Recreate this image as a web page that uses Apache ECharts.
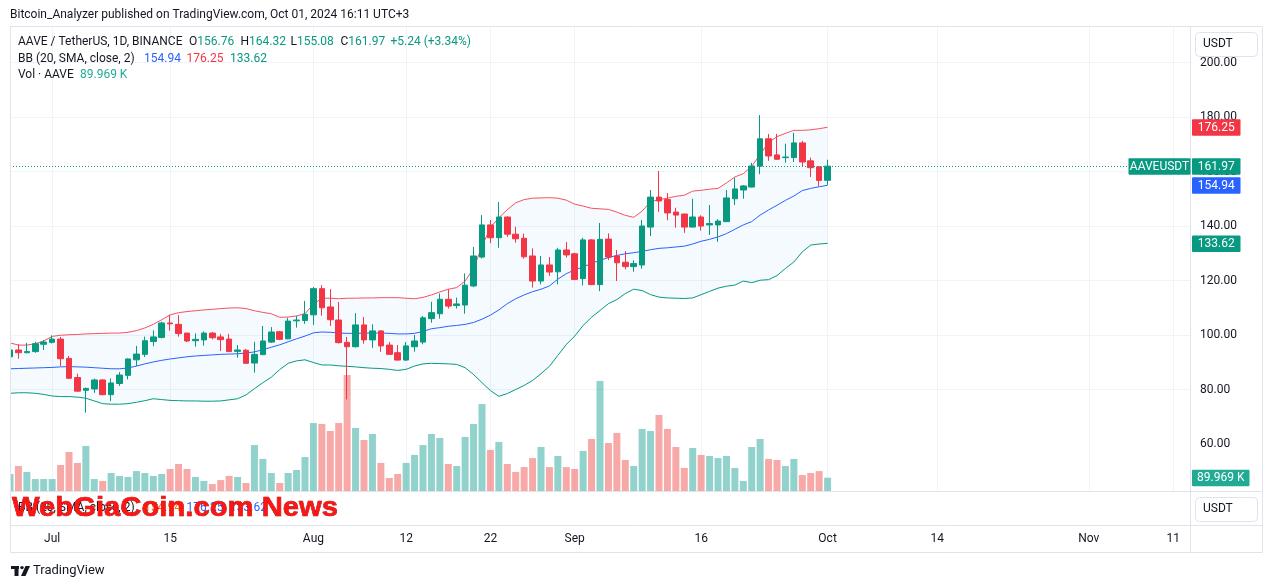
<!DOCTYPE html>
<html><head><meta charset="utf-8">
<script src="https://cdn.jsdelivr.net/npm/echarts@6/dist/echarts.min.js"></script>
<style>html,body{margin:0;padding:0;background:#fff}#c{width:1273px;height:588px}</style>
</head><body><div id="c"></div>
<script>
// ---- categories (daily, Jun 26 .. Nov 13 2024) ----
const startDay = [2024, 5, 26];
const dayCount = 141;
const categories = [];
for (let i = 0; i < dayCount; i++) {
  const d = new Date(Date.UTC(startDay[0], startDay[1], startDay[2] + i));
  categories.push(d.toISOString().slice(0, 10));
}
const timeTickDates = ['2024-07-01','2024-07-15','2024-08-01','2024-08-12','2024-08-22','2024-09-01','2024-09-16','2024-10-01','2024-10-14','2024-11-01','2024-11-11'];
const timeTickLabels = ['Jul','15','Aug','12','22','Sep','16','Oct','14','Nov','11'];
const priceTicks = [60, 80, 100, 120, 140, 160, 180, 200];

// ---- OHLC (USDT) ----
const openP = [92.0,94.5,93.5,93.9,96.6,97.3,98.5,91.4,84.4,79.7,80.2,83.5,78.1,82.2,85.2,90.9,92.9,97.6,99.1,104.4,
103.9,100.7,97.9,98.2,100.7,99.3,98.5,94.0,94.4,89.7,92.8,97.4,101.2,98.6,105.2,105.3,107.4,117.0,110.3,105.5,
97.3,95.7,103.7,98.2,101.5,96.3,93.5,90.8,95.7,97.4,106.0,107.8,113.1,110.8,111.0,118.0,128.6,140.4,135.7,143.3,
137.0,135.5,129.0,119.8,125.7,123.2,131.2,129.8,120.7,134.9,118.5,135.2,129.0,126.7,125.1,125.7,139.6,150.6,149.7,145.1,
144.4,139.6,143.3,140.4,140.4,141.6,150.0,153.2,154.3,162.0,172.0,166.1,165.1,165.1,170.5,163.9,161.7,156.76];
const highP = [95.0,96.6,97.1,97.5,98.2,99.9,99.3,92.3,85.8,80.7,84.0,83.8,84.1,86.4,91.4,96.0,99.4,101.7,104.9,107.4,
107.3,100.8,100.6,101.3,101.1,100.4,100.4,96.3,94.9,97.5,103.3,102.9,101.5,106.3,107.0,112.5,117.6,118.3,116.8,112.1,
99.3,108.0,106.6,103.9,101.7,97.4,96.3,97.4,100.0,107.0,112.2,115.2,116.8,113.7,122.6,132.3,144.0,142.2,148.8,143.5,
139.7,137.2,131.8,129.0,128.6,132.0,134.1,130.2,135.7,135.2,141.1,137.3,131.2,130.8,127.4,142.2,153.2,160.2,152.1,146.7,
144.5,150.0,143.9,147.7,142.5,153.2,157.7,155.0,163.2,180.7,173.8,173.8,170.2,174.2,171.2,165.1,161.8,164.32];
const lowP = [91.5,91.3,93.3,93.5,94.5,96.9,88.6,83.9,79.2,71.5,78.8,77.9,75.8,81.3,83.7,88.6,91.9,95.9,98.8,101.6,
99.4,97.4,95.7,96.1,98.4,94.1,93.7,91.7,89.5,86.2,92.6,97.1,98.1,98.4,102.7,104.1,103.7,107.1,103.3,96.9,
76.4,95.4,96.8,95.3,93.8,92.7,90.6,90.5,93.9,96.6,104.5,106.0,109.7,109.7,107.8,117.6,128.1,133.7,132.0,136.0,
133.9,128.0,117.4,118.6,121.7,118.6,128.4,120.1,118.2,118.3,116.1,127.5,119.8,124.1,123.2,124.3,136.3,145.2,142.1,139.4,
137.5,139.5,138.3,136.7,134.2,141.5,147.7,150.0,154.2,159.0,163.9,164.3,163.2,163.5,161.8,158.0,154.6,155.08];
const closeP = [94.5,93.5,93.9,96.8,97.4,98.5,91.3,84.1,79.4,80.4,83.5,78.1,82.4,85.3,91.2,93.0,97.9,99.3,104.4,104.1,
100.5,97.8,98.4,100.7,99.0,98.3,93.9,94.5,89.6,92.9,97.8,101.1,98.4,105.1,105.5,107.6,117.0,110.0,105.6,97.2,
95.7,103.7,98.2,101.5,96.0,92.9,90.8,96.0,97.8,106.3,108.2,113.1,110.6,111.4,118.3,129.0,140.4,135.7,143.3,137.0,
135.3,128.7,119.8,125.7,123.1,131.2,129.4,120.4,134.9,118.5,135.1,128.6,126.5,125.1,126.2,140.0,150.6,149.2,144.8,144.0,
139.6,143.3,140.0,140.9,141.8,150.3,153.6,154.7,162.0,172.0,165.7,164.5,165.3,170.5,163.5,161.4,156.73,161.97];

// ---- Volume (thousand AAVE) ----
const volumeK = [115,169,129,81,81,81,176,264,190,305,81,68,122,102,95,135,122,102,115,149,
183,149,95,68,47,74,102,95,54,311,217,122,54,122,142,230,460,454,406,460,
785,427,345,386,190,88,115,190,244,311,386,359,183,169,366,454,589,278,332,183,
129,162,223,298,162,237,162,149,271,352,745,325,393,210,169,420,406,515,420,298,
156,291,244,237,223,237,156,68,298,352,217,210,169,217,108,122,135,89.969];

// ---- Bollinger Bands (20, SMA, close, 2) ----
const bbUpper = [97.1,96.3,96.3,96.8,97.8,99.5,99.9,100.1,100.2,100.4,100.5,100.6,100.7,100.7,101.0,101.6,102.6,103.9,105.6,107.4,
108.2,108.6,108.9,109.2,109.4,109.7,109.9,110.0,109.7,108.9,108.3,107.8,106.5,106.6,107.0,107.8,111.3,113.5,113.5,113.3,
113.5,113.5,113.6,113.6,113.7,113.7,113.7,113.5,113.3,113.8,114.7,115.8,116.8,117.4,119.8,124.5,132.5,139.5,143.0,146.0,
148.5,149.7,150.2,150.3,150.4,150.2,149.5,148.0,147.3,146.5,146.3,146.1,145.1,143.9,143.2,145.5,148.9,149.7,150.2,150.9,
151.3,152.8,153.1,153.5,153.8,155.8,158.0,159.2,161.9,166.3,170.6,172.8,174.0,175.1,175.1,175.3,175.7,176.25];
const bbBasis = [87.6,87.7,87.8,87.9,88.0,88.1,88.3,88.4,88.3,88.2,88.0,87.8,87.6,87.6,87.9,88.6,89.4,90.1,90.7,91.2,
91.6,92.0,92.3,92.5,92.7,92.9,93.0,93.1,93.4,93.8,94.6,95.5,96.4,97.5,98.6,99.6,100.8,101.1,101.0,100.7,
100.6,100.6,100.7,100.7,100.7,100.6,100.4,100.4,100.6,101.3,102.3,102.7,103.2,103.5,103.9,104.6,105.8,107.3,109.2,111.5,
113.3,114.7,115.9,116.8,118.0,120.5,122.5,123.9,125.0,126.3,127.4,128.4,129.2,129.8,130.2,130.7,131.3,131.8,132.0,132.3,
132.6,133.4,134.4,135.1,136.0,137.2,138.8,140.4,141.6,144.0,145.9,147.6,149.4,151.0,153.0,153.8,154.4,154.94];
const bbLower = [78.6,78.8,78.8,78.6,78.2,77.6,77.4,77.4,77.2,76.8,75.8,74.8,74.6,74.6,74.8,75.3,75.9,76.6,76.3,76.0,
75.9,75.8,75.8,75.7,75.7,75.8,76.2,76.6,78.0,80.3,82.5,84.5,87.3,89.6,90.5,90.9,89.9,89.0,89.0,88.7,
88.5,88.3,88.0,87.8,87.7,87.4,87.0,87.4,88.6,89.4,89.6,89.5,89.4,89.2,88.0,85.5,82.5,79.6,77.5,78.5,
80.0,81.5,83.3,85.8,88.5,92.5,96.5,99.6,103.5,106.5,109.0,111.5,113.0,115.2,116.8,116.3,114.8,113.9,113.6,113.5,
113.4,113.6,114.8,116.0,117.2,117.9,118.3,119.8,119.2,120.1,120.3,121.8,124.4,126.8,130.5,133.0,133.4,133.62];

const UP = '#089981', DOWN = '#F23645', BLUE = '#2962FF', TXT = '#131722', GRIDC = '#f0f3fa', BORDER = '#e0e3eb';
const VOL_UP = 'rgba(38,166,154,0.5)', VOL_DOWN = 'rgba(239,83,80,0.5)';
const FONT = 'Roboto, "Noto Sans", sans-serif';

const chart = echarts.init(document.getElementById('c'), null, {renderer: 'canvas'});
const isTick = (i, v) => timeTickDates.indexOf(v) >= 0;
const n = openP.length;
const lastClose = closeP[n - 1];

const option = {
  animation: false,
  backgroundColor: '#ffffff',
  textStyle: {fontFamily: FONT},
  grid: [
    {left: 10, right: 83, top: 29.8, height: 468.7},
    {left: 10, right: 83, top: 27, bottom: 97}
  ],
  xAxis: [
    {type: 'category', gridIndex: 0, data: categories, boundaryGap: false, show: false},
    {type: 'category', gridIndex: 1, data: categories, boundaryGap: false,
      axisLine: {show: false}, axisTick: {show: false, interval: isTick},
      axisLabel: {interval: isTick, formatter: v => timeTickLabels[timeTickDates.indexOf(v)] || '',
        margin: 42, color: TXT, fontSize: 12, fontFamily: FONT},
      splitLine: {show: true, interval: isTick, lineStyle: {color: GRIDC, width: 1}}}
  ],
  yAxis: [
    {type: 'value', gridIndex: 0, position: 'right', min: 40, max: 212, interval: 20,
      axisLine: {show: false}, axisTick: {show: false},
      axisLabel: {margin: 10, color: TXT, fontSize: 12, fontFamily: FONT, showMinLabel: false, showMaxLabel: false,
        formatter: v => priceTicks.indexOf(v) >= 0 ? v.toFixed(2) : ''},
      splitLine: {show: true, showMinLine: false, showMaxLine: false,
        lineStyle: {color: ['rgba(0,0,0,0)', GRIDC, GRIDC, GRIDC, GRIDC, GRIDC, GRIDC, GRIDC, GRIDC, 'rgba(0,0,0,0)'], width: 1}}},
    {type: 'value', gridIndex: 1, min: 0, max: 3141, show: false}
  ],
  series: [
    {type: 'bar', name: 'Vol', xAxisIndex: 1, yAxisIndex: 1, barWidth: 7, z: 1, silent: true, clip: true,
      data: volumeK.map((v, i) => ({value: v, itemStyle: {color: closeP[i] >= openP[i] ? VOL_UP : VOL_DOWN}}))},
    {type: 'line', name: 'bbBase', xAxisIndex: 0, yAxisIndex: 0, data: bbLower, stack: 'bb', symbol: 'none',
      lineStyle: {opacity: 0}, z: 2, silent: true},
    {type: 'line', name: 'bbFill', xAxisIndex: 0, yAxisIndex: 0, data: bbUpper.map((u, i) => +(u - bbLower[i]).toFixed(3)),
      stack: 'bb', symbol: 'none', lineStyle: {opacity: 0}, areaStyle: {color: 'rgba(33,150,243,0.05)', opacity: 1}, z: 2, silent: true},
    {type: 'line', name: 'Upper', xAxisIndex: 0, yAxisIndex: 0, data: bbUpper, symbol: 'none', lineStyle: {color: '#F7525F', width: 1}, z: 3, silent: true},
    {type: 'line', name: 'Basis', xAxisIndex: 0, yAxisIndex: 0, data: bbBasis, symbol: 'none', lineStyle: {color: BLUE, width: 1}, z: 3, silent: true},
    {type: 'line', name: 'Lower', xAxisIndex: 0, yAxisIndex: 0, data: bbLower, symbol: 'none', lineStyle: {color: UP, width: 1}, z: 3, silent: true},
    {type: 'candlestick', name: 'AAVEUSDT', xAxisIndex: 0, yAxisIndex: 0, barWidth: 6, z: 4, clip: true,
      data: openP.map((o, i) => [o, closeP[i], lowP[i], highP[i]]),
      itemStyle: {color: UP, color0: DOWN, borderColor: UP, borderColor0: DOWN, borderWidth: 1},
      markLine: {silent: true, symbol: ['none', 'none'], label: {show: false},
        lineStyle: {color: UP, type: [1, 2], width: 1}, data: [{yAxis: lastClose}]}}
  ]
};
chart.setOption(option);

// ---- overlay texts / frame / price tags ----
const yP = v => chart.convertToPixel({yAxisIndex: 0}, v);
const yV = v => chart.convertToPixel({yAxisIndex: 1}, v);
const g = [];
const txt = (x, y, text, fill, size, extra) => g.push(Object.assign({type: 'text', x: x, y: y, z: 100,
  style: {text: text, fill: fill, fontSize: size || 12, fontFamily: FONT, verticalAlign: 'middle', align: 'left'}}, extra || {}));
const line = (x1, y1, x2, y2) => g.push({type: 'line', z: 90, shape: {x1: x1, y1: y1, x2: x2, y2: y2}, style: {stroke: BORDER, lineWidth: 1}});

// white mask left of the pane so the first candle is cut at the frame
g.push({type: 'rect', z: 89, shape: {x: 0, y: 27, width: 10, height: 465}, style: {fill: '#fff'}});
// frame
g.push({type: 'rect', z: 90, shape: {x: 10.5, y: 26.5, width: 1252, height: 526}, style: {fill: null, stroke: BORDER, lineWidth: 1}});
line(1190.5, 26.5, 1190.5, 552.5);
line(10.5, 491.5, 1262.5, 491.5);
line(10.5, 525.5, 1262.5, 525.5);

// title
txt(10, 15, 'Bitcoin_Analyzer published on TradingView.com, Oct 01, 2024 16:11 UTC+3', TXT, 12);
// legend line 1
txt(18, 42, 'AAVE / TetherUS, 1D, BINANCE', TXT, 12);
const ohlcItems = [['O', openP[n-1], 189], ['H', highP[n-1], 240.5], ['L', lowP[n-1], 290.5], ['C', lastClose, 340.5]];
ohlcItems.forEach(it => g.push({type: 'text', x: it[2], y: 42, z: 100,
  style: {text: '{k|' + it[0] + '}{v|' + it[1].toFixed(2) + '}', fontSize: 12, fontFamily: FONT, verticalAlign: 'middle',
    rich: {k: {fill: TXT, fontSize: 12, fontFamily: FONT}, v: {fill: UP, fontSize: 12, fontFamily: FONT}}}}));
const chg = lastClose - closeP[n-2];
txt(390.5, 42, '+' + chg.toFixed(2) + ' (+' + (chg / closeP[n-2] * 100).toFixed(2) + '%)', UP, 12);
// legend line 2
txt(18, 59, 'BB (20, SMA, close, 2)', TXT, 12);
txt(144, 59, bbBasis[n-1].toFixed(2), BLUE, 12);
txt(186.5, 59, bbUpper[n-1].toFixed(2), DOWN, 12);
txt(230, 59, bbLower[n-1].toFixed(2), UP, 12);
// legend line 3
txt(18, 75, 'Vol · AAVE', TXT, 12);
txt(80, 75, volumeK[n-1].toFixed(3) + ' K', '#22ab94', 12);

// second pane legend (partly hidden by watermark)
txt(18, 508, 'BB (20, SMA, close, 2)', TXT, 12);
txt(144, 508, bbBasis[n-1].toFixed(2), '#FF6D00', 12);
txt(186.5, 508, bbUpper[n-1].toFixed(2), BLUE, 12);
txt(230, 508, bbLower[n-1].toFixed(2), BLUE, 12);

// USDT buttons
[[32, 44], [497, 509]].forEach(b => {
  g.push({type: 'rect', z: 95, shape: {x: 1195.5, y: b[0] + 0.5, width: 62, height: 24, r: 4}, style: {fill: '#fff', stroke: BORDER, lineWidth: 1}});
  txt(1203, b[1], 'USDT', TXT, 12, {z: 96});
});

// price tags
const tag = (x, w, y, text, color) => {
  g.push({type: 'rect', z: 97, shape: {x: x, y: y - 8, width: w, height: 16.5, r: 1}, style: {fill: color}});
  g.push({type: 'text', x: x + w / 2, y: y + 0.5, z: 98,
    style: {text: text, fill: '#fff', fontSize: 12, fontFamily: FONT, align: 'center', verticalAlign: 'middle'}});
};
tag(1192, 48.5, yP(bbUpper[n-1]), bbUpper[n-1].toFixed(2), DOWN);
tag(1192, 48.5, yP(bbBasis[n-1]), bbBasis[n-1].toFixed(2), BLUE);
tag(1192, 48.5, yP(lastClose), lastClose.toFixed(2), UP);
tag(1128.5, 62, yP(lastClose), 'AAVEUSDT', UP);
tag(1192, 48.5, yP(bbLower[n-1]), bbLower[n-1].toFixed(2), UP);
tag(1192, 57.5, yV(volumeK[n-1]), volumeK[n-1].toFixed(3) + ' K', '#22ab94');

// watermark
const wmText = 'WebGiaCoin.com News';
const wmFont = 'bold 28px "Liberation Sans", Arial, sans-serif';
const cv = document.createElement('canvas').getContext('2d');
cv.font = wmFont;
const wmScale = 326 / cv.measureText(wmText).width;
g.push({type: 'text', x: 12, y: 508, z: 120, scaleX: wmScale,
  style: {text: wmText, fill: '#ff1414', stroke: '#8a0000', lineWidth: 0.6, font: wmFont, verticalAlign: 'middle', align: 'left'}});

// footer logo + text
g.push({type: 'rect', z: 100, shape: {x: 11, y: 566, width: 8, height: 3}, style: {fill: TXT}});
g.push({type: 'rect', z: 100, shape: {x: 14.5, y: 566, width: 4, height: 10}, style: {fill: TXT}});
g.push({type: 'circle', z: 100, shape: {cx: 22, cy: 567.6, r: 1.7}, style: {fill: TXT}});
g.push({type: 'polygon', z: 100, shape: {points: [[25.5, 566], [30, 566], [25.5, 576], [21, 576]]}, style: {fill: TXT}});
txt(33, 571, 'TradingView', TXT, 13);

chart.setOption({graphic: g});
</script>
</body></html>
